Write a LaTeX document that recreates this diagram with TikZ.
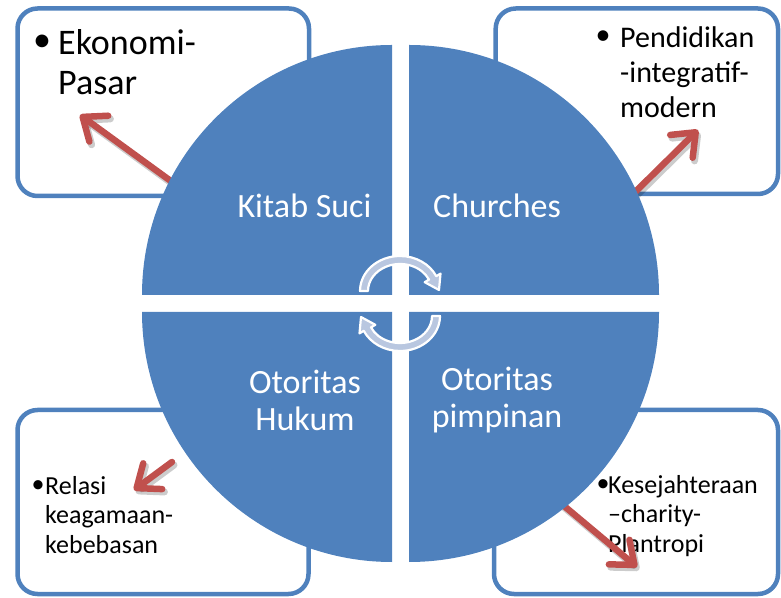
\documentclass[tikz,border=0pt]{standalone}
\usepackage{fontspec}
\setmainfont{Carlito}
\usetikzlibrary{arrows.meta}
\definecolor{accblue}{HTML}{4F81BD}
\definecolor{accred}{HTML}{C0504D}
\definecolor{cyclefill}{HTML}{B9C7E0}
\begin{document}
\begin{tikzpicture}[x=1pt,y=1pt,
  infobox/.style={draw=accblue, line width=4.5pt, rounded corners=20pt, inner sep=0pt},
  quad/.style={fill=accblue},
  quadlabel/.style={text=white, font=\fontsize{34}{37}\selectfont, align=center, inner sep=0pt},
  itemtext/.style={align=left, inner sep=0pt, anchor=base west},
  bullet/.style={inner sep=0pt},
  redarrow/.style={draw=accred, line width=6.5pt, line cap=round,
    -{Straight Barb[length=20pt,width=32pt,round]}},
  arrowshade/.style={draw=black, opacity=0.2, line width=7pt, line cap=round,
    -{Straight Barb[length=20pt,width=32pt,round]}},
  cycarrow/.style={fill=cyclefill, draw=white, line width=2.2pt, line join=round},
  cyc/.pic={
    \filldraw[cycarrow] (180:40pt and 35pt)
      arc[start angle=180, end angle=25, x radius=40pt, y radius=35pt]
      -- (40.5,17.4) -- (39,1) -- (24.7,8.8) -- (25:32pt and 27pt)
      arc[start angle=25, end angle=180, x radius=32pt, y radius=27pt] -- cycle;
  }]
\useasboundingbox (0,0) rectangle (781,597);

% corner boxes
\node[infobox, minimum width=291.5pt, minimum height=187.5pt] (boxTL) at (163.25,494.75) {};
\node[infobox, minimum width=282.3pt, minimum height=185.5pt] (boxTR) at (636.85,495.75) {};
\node[infobox, minimum width=291pt, minimum height=184pt] (boxBL) at (163,95) {};
\node[infobox, minimum width=284pt, minimum height=184pt] (boxBR) at (636,95) {};

% bullet items (anchored at the baseline of their last line)
\node[bullet, font=\fontsize{36}{40}\selectfont] (bulTL) at (42,554) {•};
\node[itemtext, font=\fontsize{36}{40}\selectfont] (txtTL) at (58,502) {Ekonomi-\\Pasar};
\node[bullet, font=\fontsize{30}{35}\selectfont] (bulTR) at (603,559) {•};
\node[itemtext, font=\fontsize{30}{35}\selectfont] (txtTR) at (620,479) {Pendidikan\\-integratif-\\modern};
\node[bullet, font=\fontsize{26}{29.5}\selectfont] (bulBL) at (38,110) {•};
\node[itemtext, font=\fontsize{26}{29.5}\selectfont] (txtBL) at (45,44) {Relasi\\keagamaan-\\kebebasan};
\node[bullet, font=\fontsize{26}{29.5}\selectfont] (bulBR) at (603,111) {•};
\node[itemtext, font=\fontsize{26}{29.5}\selectfont] (txtBR) at (608,45) {Kesejahteraan\\–charity-\\Plantropi};

% arrow end points
\coordinate (tlFrom) at (190,402);  \coordinate (tlTo) at (80,482);
\coordinate (trFrom) at (622,392);  \coordinate (trTo) at (698,467);
\coordinate (blFrom) at (172,135);  \coordinate (blTo) at (134,107);
\coordinate (brFrom) at (545,107);  \coordinate (brTo) at (637,30);

% soft shadows, then red arrows
\foreach \a/\b in {tlFrom/tlTo, trFrom/trTo, blFrom/blTo, brFrom/brTo}
  \draw[arrowshade] ([shift={(2,-3)}]\a) -- ([shift={(2,-3)}]\b);
\draw[redarrow] (tlFrom) -- (tlTo);
\draw[redarrow] (trFrom) -- (trTo);
\draw[redarrow] (blFrom) -- (blTo);
\draw[redarrow] (brFrom) -- (brTo);

% four quadrants of the circle
\fill[quad] (392,302) -- ++(-250,0) arc[start angle=180, end angle=90, radius=250pt] -- cycle;
\fill[quad] (409,302) -- ++(0,250) arc[start angle=90, end angle=0, radius=250pt] -- cycle;
\fill[quad] (392,285) -- ++(-250,0) arc[start angle=180, end angle=270, radius=250pt] -- cycle;
\fill[quad] (409,285) -- ++(250,0) arc[start angle=0, end angle=-90, radius=250pt] -- cycle;

% quadrant labels
\node[quadlabel] (kitab) at (304.5,391) {Kitab Suci};
\node[quadlabel] (church) at (497,391) {Churches};
\node[quadlabel] (hukum) at (305,197) {Otoritas\\Hukum};
\node[quadlabel] (pimpin) at (497,197) {Otoritas\\pimpinan};

% cycle arrows in the middle
\pic at (400,306) {cyc};
\pic[rotate=180] at (400,281) {cyc};
\end{tikzpicture}
\end{document}
